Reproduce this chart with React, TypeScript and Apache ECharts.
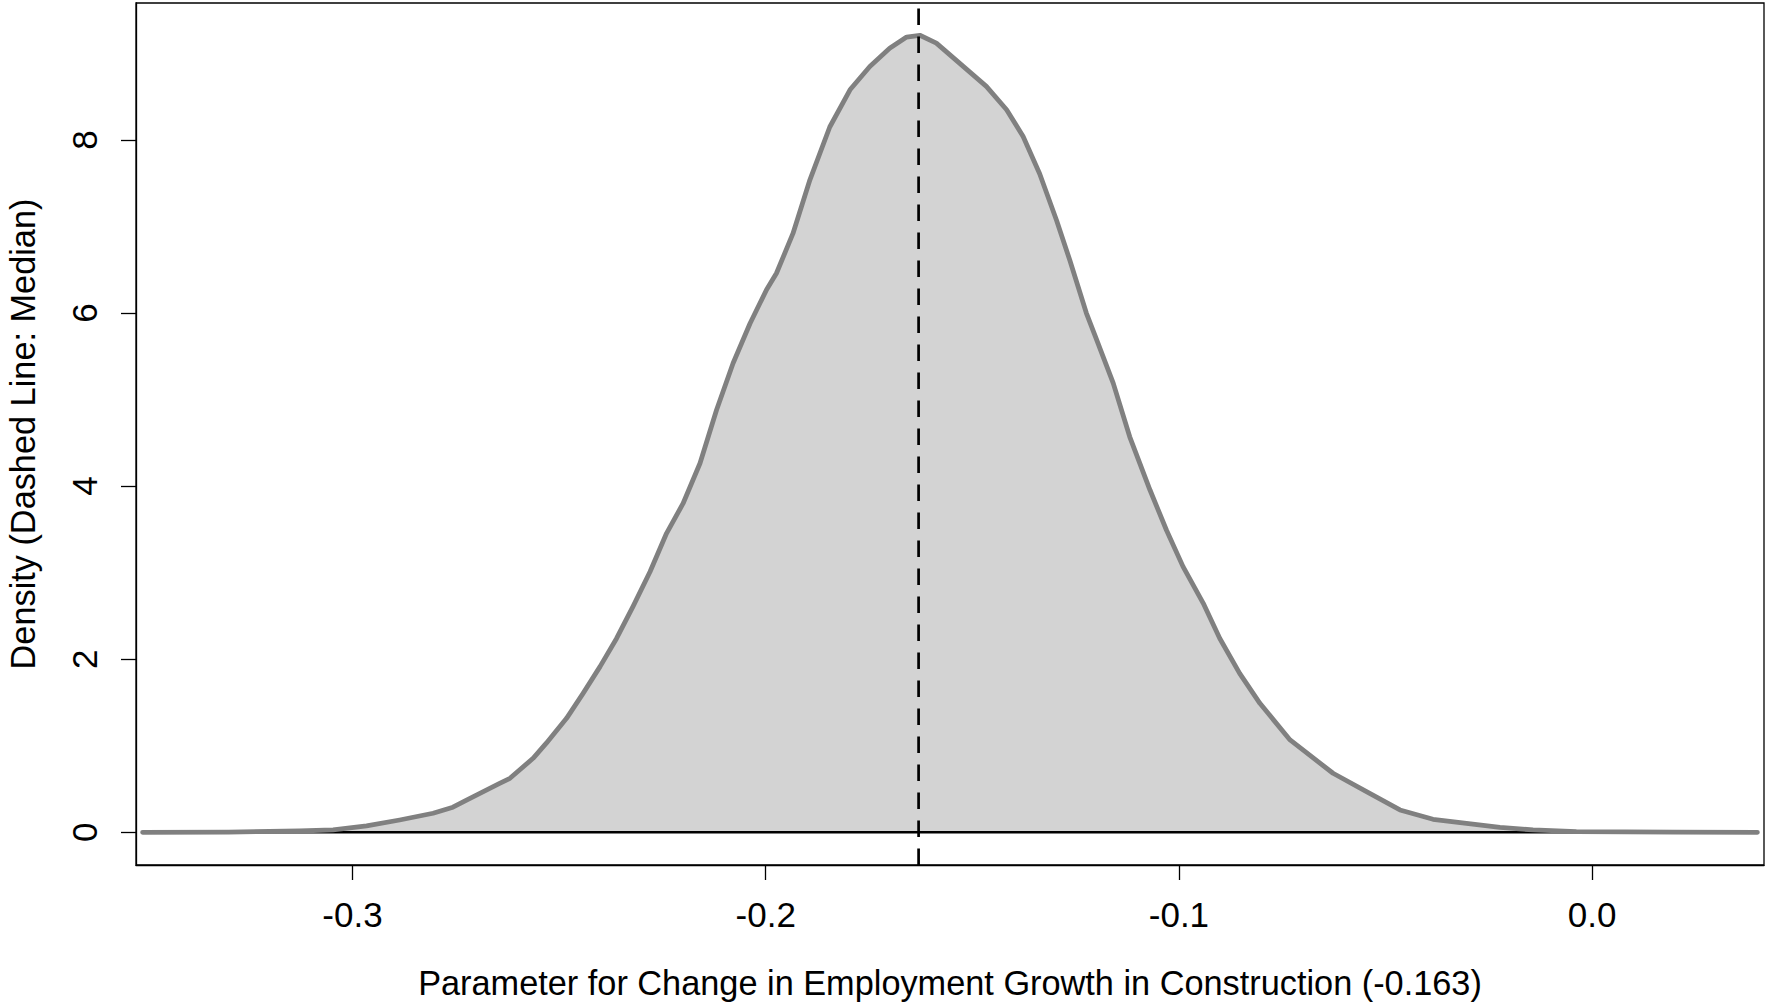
import React, { useEffect, useRef } from "react";
import * as echarts from "echarts";

// Posterior density of the construction employment-growth parameter
const paramValues = [
  -0.3508, -0.33, -0.3128, -0.3047, -0.2966, -0.2886, -0.2805, -0.2757, -0.2724,
  -0.2644, -0.2619, -0.2563, -0.2531, -0.2482, -0.2442, -0.2401, -0.2361, -0.2321,
  -0.228, -0.224, -0.22, -0.2159, -0.2119, -0.2079, -0.2038, -0.1998, -0.1974,
  -0.1934, -0.1893, -0.1845, -0.1796, -0.1748, -0.17, -0.1659, -0.1627, -0.1587,
  -0.1522, -0.1466, -0.1417, -0.1377, -0.1337, -0.1296, -0.1264, -0.1224, -0.1199,
  -0.1159, -0.1119, -0.107, -0.103, -0.099, -0.0941, -0.0901, -0.0853, -0.0804,
  -0.0731, -0.0627, -0.0546, -0.0465, -0.0385, -0.0304, -0.0223, -0.0143, -0.0038,
  0.02, 0.04,
];
const densityValues = [
  0, 0.002, 0.015, 0.027, 0.073, 0.142, 0.22, 0.29, 0.373,
  0.566, 0.624, 0.855, 1.03, 1.317, 1.606, 1.914, 2.24, 2.61,
  3.01, 3.455, 3.8, 4.264, 4.88, 5.42, 5.88, 6.27, 6.46,
  6.92, 7.54, 8.15, 8.58, 8.85, 9.06, 9.19, 9.21, 9.12,
  8.85, 8.62, 8.35, 8.04, 7.61, 7.07, 6.61, 6.0, 5.69,
  5.19, 4.57, 3.955, 3.49, 3.07, 2.646, 2.24, 1.837, 1.49,
  1.067, 0.682, 0.469, 0.258, 0.15, 0.104, 0.058, 0.027, 0.007,
  0.001, 0,
];
const medianValue = -0.163;

const xTicks = [-0.3, -0.2, -0.1, 0.0];
const yTicks = [0, 2, 4, 6, 8];
const xRange = [-0.3524, 0.0416];
const yRange = [-0.378, 9.583];

const xTitle = "Parameter for Change in Employment Growth in Construction (-0.163)";
const yTitle = "Density (Dashed Line: Median)";

const FONT = "'Liberation Sans', Arial, Helvetica, sans-serif";

export default function App() {
  const ref = useRef<HTMLDivElement>(null);

  useEffect(() => {
    if (!ref.current) return;
    const chart = echarts.init(ref.current, null, { renderer: "svg" });

    const curve = paramValues.map((x, i) => [x, densityValues[i]]);
    const baseline = [
      [paramValues[0], 0],
      [paramValues[paramValues.length - 1], 0],
    ];
    const medianLine = [
      [medianValue, yRange[0]],
      [medianValue, yRange[1]],
    ];

    const axisStroke = { color: "#000", width: 1.3 };

    chart.setOption({
      animation: false,
      backgroundColor: "#fff",
      grid: {
        left: 136,
        right: 1,
        top: 3,
        bottom: 140,
        show: true,
        borderColor: "#000",
        borderWidth: 1.3,
        containLabel: false,
        outerBoundsMode: "none",
      },
      xAxis: {
        type: "value",
        min: xRange[0],
        max: xRange[1],
        splitLine: { show: false },
        axisLine: { show: true, onZero: false, lineStyle: axisStroke },
        axisTick: {
          show: true,
          length: 15,
          lineStyle: axisStroke,
          customValues: xTicks,
        },
        axisLabel: {
          customValues: xTicks,
          formatter: (v: number) => (Math.abs(v) < 1e-9 ? 0 : v).toFixed(1),
          fontSize: 35,
          fontFamily: FONT,
          color: "#000",
          margin: 32,
        },
      },
      yAxis: {
        type: "value",
        min: yRange[0],
        max: yRange[1],
        splitLine: { show: false },
        axisLine: { show: true, onZero: false, lineStyle: axisStroke },
        axisTick: {
          show: true,
          length: 15,
          lineStyle: axisStroke,
          customValues: yTicks,
        },
        axisLabel: {
          customValues: yTicks,
          formatter: (v: number) => String(Math.round(v)),
          rotate: 90,
          fontSize: 35,
          fontFamily: FONT,
          color: "#000",
          margin: 34,
        },
      },
      series: [
        {
          // shaded area under the density
          type: "line",
          data: curve,
          symbol: "none",
          smooth: false,
          lineStyle: { width: 0, opacity: 0 },
          areaStyle: { color: "#d3d3d3", opacity: 1 },
          z: 1,
        },
        {
          // zero line along the base of the shaded region
          type: "line",
          data: baseline,
          symbol: "none",
          lineStyle: { color: "#000", width: 2.6 },
          z: 2,
        },
        {
          // density outline
          type: "line",
          data: curve,
          symbol: "none",
          smooth: false,
          lineStyle: { color: "#808080", width: 4.8, cap: "round", join: "round" },
          z: 3,
        },
        {
          // median marker
          type: "line",
          data: medianLine,
          symbol: "none",
          lineStyle: { color: "#000", width: 2.7, type: [16.5, 11.5] },
          z: 4,
        },
      ],
      graphic: [
        {
          type: "text",
          x: 950,
          y: 983,
          style: {
            text: xTitle,
            fontSize: 34.3,
            fontFamily: FONT,
            fill: "#000",
            align: "center",
            verticalAlign: "middle",
          },
        },
        {
          type: "text",
          x: 22.5,
          y: 434,
          rotation: Math.PI / 2,
          style: {
            text: yTitle,
            fontSize: 34.3,
            fontFamily: FONT,
            fill: "#000",
            align: "center",
            verticalAlign: "middle",
          },
        },
      ],
    });

    return () => chart.dispose();
  }, []);

  return (
    <div
      ref={ref}
      style={{ position: "absolute", left: 0, top: 0, width: 1765, height: 1005 }}
    />
  );
}
